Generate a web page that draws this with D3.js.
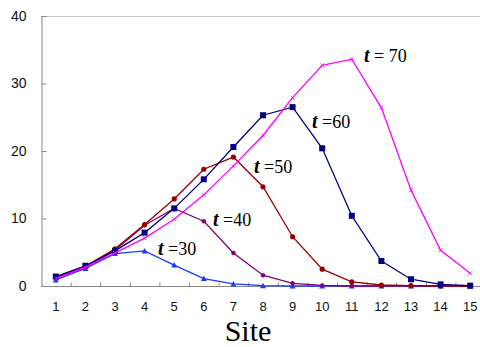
<!DOCTYPE html>
<html>
<head>
<meta charset="utf-8">
<script src="https://cdn.jsdelivr.net/npm/d3@7"></script>
<style>
  body { margin: 0; background: #fff; }
  svg { display: block; }
</style>
</head>
<body>
<svg></svg>
<script>
const sites = [1, 2, 3, 4, 5, 6, 7, 8, 9, 10, 11, 12, 13, 14, 15];
const y_ticks = [0, 10, 20, 30, 40];

const t30 = [0.9, 2.6, 4.8, 5.2, 3.1, 1.1, 0.3, 0.05, 0, 0, 0, 0, 0, 0, 0];
const t40 = [1.2, 2.8, 5.3, 9.0, 11.5, 9.6, 4.9, 1.6, 0.4, 0.1, 0, 0, 0, 0, 0];
const t50 = [1.3, 2.9, 5.5, 9.1, 12.9, 17.3, 19.1, 14.7, 7.3, 2.5, 0.6, 0.15, 0.05, 0, 0];
const t60 = [1.4, 3.0, 5.2, 7.9, 11.5, 15.8, 20.6, 25.3, 26.5, 20.4, 10.4, 3.7, 1.0, 0.25, 0.05];
const t70 = [1.1, 2.8, 4.9, 7.1, 9.9, 13.5, 17.8, 22.3, 27.9, 32.7, 33.6, 26.4, 14.2, 5.3, 1.9];

const series = [
  { name: "30", values: t30, color: "#1a3cff", marker: "triangle", lx: 158, ly: 255 },
  { name: "40", values: t40, color: "#800080", marker: "dot", lx: 213, ly: 226 },
  { name: "50", values: t50, color: "#990000", marker: "circle", lx: 254, ly: 173 },
  { name: "60", values: t60, color: "#000080", marker: "square", lx: 312, ly: 128 },
  { name: "70", values: t70, color: "#ff00ff", marker: "cross", lx: 364, ly: 62 }
];

const width = 480, height = 347;
const margin = { left: 41, right: -5, top: 16, bottom: 61 };

const svg = d3.select("svg").attr("width", width).attr("height", height);

const x_scale = d3.scaleBand()
  .domain(sites)
  .range([margin.left, width - margin.right]);

const y_scale = d3.scaleLinear()
  .domain([0, 40])
  .range([286, margin.top]);

// top frame line
svg.append("line")
  .attr("x1", margin.left).attr("x2", width)
  .attr("y1", y_scale(40) + 0.5).attr("y2", y_scale(40) + 0.5)
  .attr("stroke", "#c8c8c8");

// y axis, ticks point inward
const y_axis = d3.axisLeft(y_scale)
  .tickValues(y_ticks)
  .tickSize(-5)
  .tickPadding(15);

const gy = svg.append("g")
  .attr("transform", `translate(${margin.left + 0.5},0)`)
  .call(y_axis);
gy.select(".domain").attr("stroke", "#888");
gy.selectAll(".tick line").attr("stroke", "#888");
gy.selectAll(".tick text")
  .attr("font-family", "Arial, 'Liberation Sans', sans-serif")
  .attr("font-size", "14px")
  .attr("fill", "#111");

// x axis, ticks at band boundaries pointing up
const gx = svg.append("g")
  .attr("transform", `translate(0,${y_scale(0) + 0.5})`);
gx.append("line")
  .attr("x1", margin.left).attr("x2", width)
  .attr("stroke", "#888");
gx.selectAll(".xt")
  .data(sites.slice(1))
  .join("line")
  .attr("x1", d => x_scale(d) + 0.5).attr("x2", d => x_scale(d) + 0.5)
  .attr("y1", 0).attr("y2", -4)
  .attr("stroke", "#888");
gx.selectAll(".xl")
  .data(sites)
  .join("text")
  .attr("x", d => x_scale(d) + x_scale.bandwidth() / 2)
  .attr("y", 24)
  .attr("text-anchor", "middle")
  .attr("font-family", "Arial, 'Liberation Sans', sans-serif")
  .attr("font-size", "13px")
  .attr("fill", "#111")
  .text(d => d);

svg.append("text")
  .attr("x", 248)
  .attr("y", 341)
  .attr("text-anchor", "middle")
  .attr("font-family", "'Liberation Serif', 'Times New Roman', serif")
  .attr("font-size", "30px")
  .text("Site");

const line_generator = d3.line()
  .x((d, i) => x_scale(sites[i]) + x_scale.bandwidth() / 2)
  .y(d => y_scale(d));

series.forEach(s => {
  const g = svg.append("g");
  g.append("path")
    .attr("fill", "none")
    .attr("stroke", s.color)
    .attr("stroke-width", 1.3)
    .attr("d", line_generator(s.values));

  const pts = g.selectAll(".pt")
    .data(s.values)
    .join("g")
    .attr("transform", (d, i) =>
      `translate(${x_scale(sites[i]) + x_scale.bandwidth() / 2},${y_scale(d)})`);

  if (s.marker === "square") {
    pts.append("rect").attr("x", -3).attr("y", -3).attr("width", 6).attr("height", 6).attr("fill", s.color);
  } else if (s.marker === "circle") {
    pts.append("circle").attr("r", 2.6).attr("fill", s.color);
  } else if (s.marker === "dot") {
    pts.append("circle").attr("r", 2.2).attr("fill", s.color);
  } else if (s.marker === "triangle") {
    pts.append("path").attr("d", "M0,-3L3,2.5L-3,2.5Z").attr("fill", s.color);
  } else {
    pts.append("path").attr("d", "M-2,-2L2,2M-2,2L2,-2").attr("stroke", s.color).attr("stroke-width", 0.8);
  }

  const lab = svg.append("text")
    .attr("x", s.lx)
    .attr("y", s.ly)
    .attr("font-family", "'Liberation Serif', 'Times New Roman', serif")
    .attr("font-size", "18px")
    .attr("fill", "#000");
  lab.append("tspan").attr("font-style", "italic").attr("font-weight", "bold").attr("font-size", "20px").text("t");
  lab.append("tspan").text(s.name === "70" ? " = 70" : " =" + s.name);
});
</script>
</body>
</html>
